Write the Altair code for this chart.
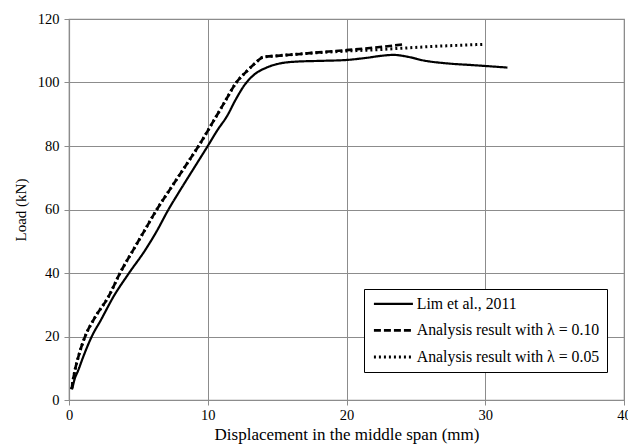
import altair as alt
import pandas as pd

series_names = [
    "Lim et al., 2011",
    "Analysis result with λ = 0.10",
    "Analysis result with λ = 0.05",
]

lim_x = [0.24, 0.4, 0.67, 1.0, 1.64, 2.3, 3.2, 4.33, 5.49, 6.3, 7.17, 8.0, 9.0, 10.0,
         10.7, 11.4, 12.0, 12.7, 13.3, 14.3, 15.2, 16.5, 18.0, 20.0, 21.5, 22.5, 23.4,
         24.3, 25.6, 27.3, 29.0, 30.0, 31.6]
lim_y = [3.7, 6.5, 9.4, 13.3, 20.0, 25.2, 32.5, 40.0, 47.2, 53.0, 60.0, 66.0, 73.0, 80.0,
         85.0, 89.5, 94.5, 99.5, 102.3, 104.8, 106.0, 106.6, 106.8, 107.1, 107.8, 108.4, 108.7,
         108.2, 106.9, 106.0, 105.5, 105.2, 104.7]

a10_x = [0.19, 0.3, 0.43, 0.7, 1.16, 1.8, 2.84, 3.68, 4.77, 5.5, 6.33, 7.5, 8.5, 9.34,
         10.5, 11.2, 12.06, 12.8, 13.4, 14.0, 15.0, 16.7, 18.0, 20.0, 22.0, 24.1]
a10_y = [3.4, 6.5, 9.4, 14.0, 20.0, 25.5, 32.5, 40.0, 48.3, 53.8, 60.0, 67.8, 74.4, 80.0,
         88.5, 93.7, 100.0, 103.5, 106.0, 108.0, 108.4, 109.0, 109.5, 110.2, 111.0, 112.0]

a05_x = [0.19, 0.3, 0.43, 0.7, 1.16, 1.8, 2.84, 3.68, 4.77, 5.5, 6.33, 7.5, 8.5, 9.34,
         10.5, 11.2, 12.06, 12.8, 13.4, 14.0, 15.0, 16.7, 18.0, 20.0, 22.45, 24.0, 26.0,
         28.0, 29.8]
a05_y = [3.4, 6.5, 9.4, 14.0, 20.0, 25.5, 32.5, 40.0, 48.3, 53.8, 60.0, 67.8, 74.4, 80.0,
         88.5, 93.7, 100.0, 103.5, 106.0, 108.0, 108.4, 109.0, 109.4, 109.9, 110.4, 110.8, 111.3,
         111.7, 112.0]

x_ticks = [0, 10, 20, 30, 40]
y_ticks = [0, 20, 40, 60, 80, 100, 120]

rows = []
# draw order: dotted first, then dashed, then solid
for name, xs, ys in [(series_names[2], a05_x, a05_y),
                     (series_names[1], a10_x, a10_y),
                     (series_names[0], lim_x, lim_y)]:
    for i, (xv, yv) in enumerate(zip(xs, ys)):
        rows.append({"series": name, "x": xv, "y": yv, "order": i})
df = pd.DataFrame(rows)

FONT = "Liberation Serif"

chart = alt.Chart(df).mark_line(color="black", clip=True, interpolate="monotone").encode(
    x=alt.X("x:Q",
            scale=alt.Scale(domain=[0, 40], nice=False, zero=False),
            axis=alt.Axis(values=x_ticks, title="Displacement in the middle span (mm)",
                          labelFlush=False, labelPadding=3, titlePadding=5,
                          labelFont=FONT, titleFont=FONT,
                          titleFontSize=17, labelFontSize=14.5)),
    y=alt.Y("y:Q",
            scale=alt.Scale(domain=[0, 120], nice=False),
            axis=alt.Axis(values=y_ticks, title="Load (kN)", labelFlush=False,
                          labelPadding=5, titlePadding=9,
                          labelFont=FONT, titleFont=FONT,
                          titleFontSize=15, labelFontSize=14.5)),
    strokeDash=alt.StrokeDash(
        "series:N",
        scale=alt.Scale(domain=series_names, range=[[1, 0], [7, 3], [2, 3]]),
        legend=alt.Legend(
            title=None, orient="none", legendX=295, legendY=270,
            fillColor="white", strokeColor="black", padding=7,
            labelFont=FONT, labelFontSize=15.8, labelColor="black", labelLimit=400,
            symbolType="M-0.83,0H5.67", symbolSize=144, symbolStrokeWidth=2,
            symbolStrokeColor="black", labelOffset=30, rowPadding=9.5,
        ),
    ),
    strokeWidth=alt.StrokeWidth(
        "series:N",
        scale=alt.Scale(domain=series_names, range=[2.2, 3, 2]),
        legend=None,
    ),
    detail="series:N",
    order="order:Q",
).properties(
    width=555, height=381,
    padding={"left": 69, "top": 19, "right": 4, "bottom": 47},
    autosize=alt.AutoSizeParams(type="none"),
    background="white",
).configure_view(
    stroke="#8c8c8c", strokeWidth=1.2
).configure_axis(
    domainColor="#8c8c8c", gridColor="#8c8c8c", tickColor="#8c8c8c",
    domainWidth=1.2, gridWidth=1, tickSize=5, tickWidth=1,
    labelFont=FONT, titleFont=FONT, labelColor="black", titleColor="black",
    titleFontWeight="normal", grid=True,
)

chart.save("out.html", embed_options={"renderer": "svg", "actions": False})
